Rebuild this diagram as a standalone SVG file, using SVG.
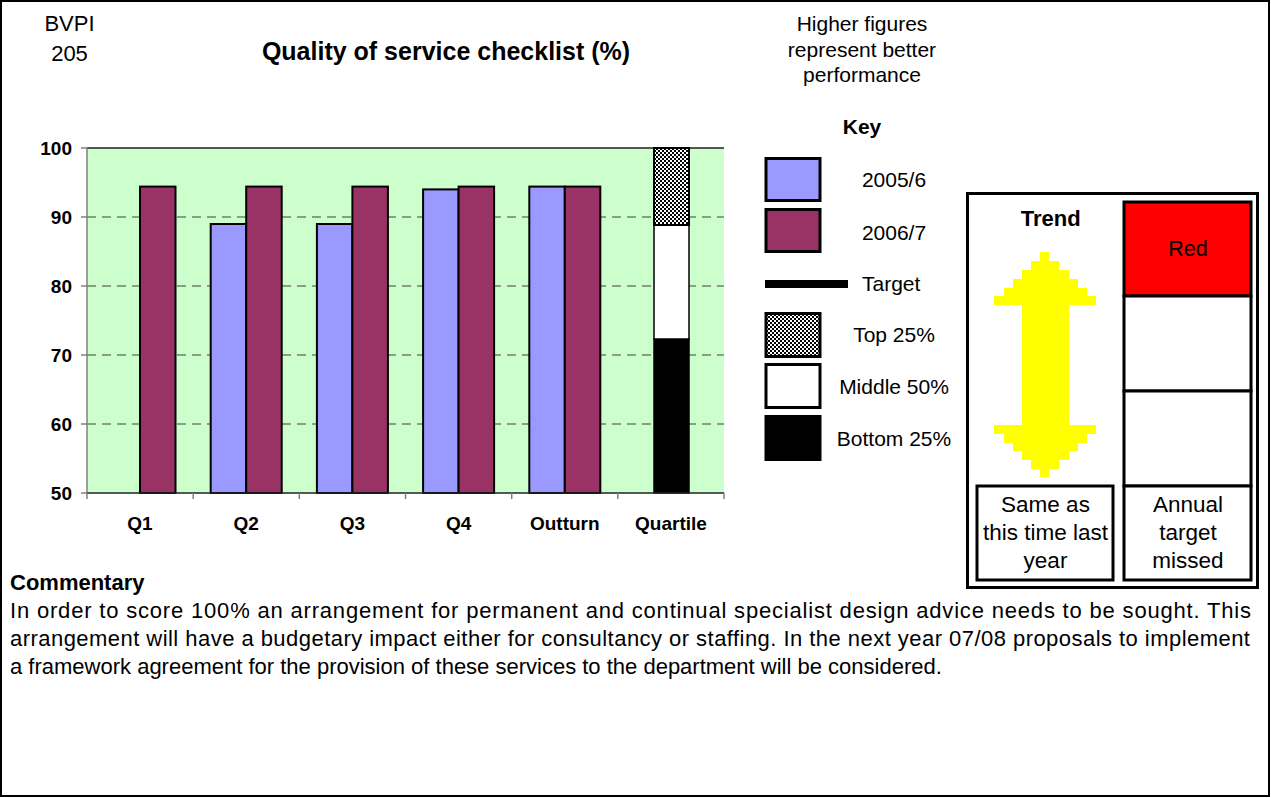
<svg xmlns="http://www.w3.org/2000/svg" width="1271" height="798" viewBox="0 0 1271 798">
<defs>
<pattern id="checker" width="4" height="4" patternUnits="userSpaceOnUse">
<rect width="4" height="4" fill="#ffffff"/>
<rect width="2" height="2" fill="#000000"/>
<rect x="2" y="2" width="2" height="2" fill="#000000"/>
</pattern>
</defs>
<style>
text { font-family: "Liberation Sans", Arial, sans-serif; fill: #000; }
.b { font-weight: bold; }
.ylab { font-size: 19px; font-weight: bold; text-anchor: end; }
.xlab { font-size: 19px; font-weight: bold; text-anchor: middle; }
.key { font-size: 21px; text-anchor: middle; }
.mid { text-anchor: middle; }
.grid { stroke: #404040; stroke-width: 1; stroke-dasharray: 9 6; fill: none; }
.axis { stroke: #808080; stroke-width: 1.5; fill: none; }
.bar { stroke: #000; stroke-width: 2; }
.s05 { fill: #9999FF; }
.s06 { fill: #993366; }
.box { fill: #fff; stroke: #000; stroke-width: 3; }
.body { font-size: 22px; }
.panel { font-size: 22.5px; text-anchor: middle; }
</style>

<rect id="frame" x="1" y="1" width="1268" height="795" fill="#fff" stroke="#000" stroke-width="2"/>

<g id="header">
<text x="69.5" y="31" font-size="22" class="mid">BVPI</text>
<text x="69.5" y="61" font-size="22" class="mid">205</text>
<text x="446" y="60" font-size="25" class="b mid">Quality of service checklist (%)</text>
<text x="862" y="31" font-size="21" class="mid">Higher figures</text>
<text x="862" y="57" font-size="21" class="mid">represent better</text>
<text x="862" y="82" font-size="21" class="mid">performance</text>
</g>

<g id="chart">
<rect id="plot-area" x="87" y="148" width="637" height="345" fill="#CCFFCC"/>
<g id="gridlines">
<line class="grid" x1="87" y1="217" x2="724" y2="217"/>
<line class="grid" x1="87" y1="286" x2="724" y2="286"/>
<line class="grid" x1="87" y1="355" x2="724" y2="355"/>
<line class="grid" x1="87" y1="424" x2="724" y2="424"/>
</g>
<line x1="87" y1="148" x2="724" y2="148" stroke="#222" stroke-width="1.5"/>
<g id="y-axis">
<line class="axis" x1="87" y1="148" x2="87" y2="493"/>
<line class="axis" x1="81" y1="148" x2="87" y2="148"/>
<line class="axis" x1="81" y1="217" x2="87" y2="217"/>
<line class="axis" x1="81" y1="286" x2="87" y2="286"/>
<line class="axis" x1="81" y1="355" x2="87" y2="355"/>
<line class="axis" x1="81" y1="424" x2="87" y2="424"/>
<line class="axis" x1="81" y1="493" x2="87" y2="493"/>
<text class="ylab" x="72" y="155">100</text>
<text class="ylab" x="72" y="224">90</text>
<text class="ylab" x="72" y="293">80</text>
<text class="ylab" x="72" y="362">70</text>
<text class="ylab" x="72" y="431">60</text>
<text class="ylab" x="72" y="500">50</text>
</g>

<g id="bars">
<rect class="bar s06" x="140" y="186.6" width="35.5" height="306.4"/>
<rect class="bar s05" x="210.7" y="224" width="35.5" height="269"/>
<rect class="bar s06" x="246.2" y="186.6" width="35.5" height="306.4"/>
<rect class="bar s05" x="316.9" y="224" width="35.5" height="269"/>
<rect class="bar s06" x="352.4" y="186.6" width="35.5" height="306.4"/>
<rect class="bar s05" x="423.1" y="189.4" width="35.5" height="303.6"/>
<rect class="bar s06" x="458.6" y="186.6" width="35.5" height="306.4"/>
<rect class="bar s05" x="529.3" y="186.6" width="35.5" height="306.4"/>
<rect class="bar s06" x="564.8" y="186.6" width="35.5" height="306.4"/>
</g>

<g id="quartile-bar">
<rect x="654" y="339" width="35" height="154" fill="#000" stroke="#000" stroke-width="1.5"/>
<rect x="654" y="225" width="35" height="114" fill="#fff" stroke="#000" stroke-width="1.5"/>
<rect x="654" y="148" width="35" height="77" fill="url(#checker)" stroke="#000" stroke-width="2"/>
</g>

<g id="x-axis">
<line x1="87" y1="493" x2="724" y2="493" stroke="#222" stroke-width="1.5"/>
<line class="axis" x1="87" y1="493" x2="87" y2="499"/>
<line class="axis" x1="193.2" y1="493" x2="193.2" y2="499"/>
<line class="axis" x1="299.3" y1="493" x2="299.3" y2="499"/>
<line class="axis" x1="405.5" y1="493" x2="405.5" y2="499"/>
<line class="axis" x1="511.7" y1="493" x2="511.7" y2="499"/>
<line class="axis" x1="617.8" y1="493" x2="617.8" y2="499"/>
<line class="axis" x1="724" y1="493" x2="724" y2="499"/>
<text class="xlab" x="140" y="530">Q1</text>
<text class="xlab" x="246.2" y="530">Q2</text>
<text class="xlab" x="352.4" y="530">Q3</text>
<text class="xlab" x="458.6" y="530">Q4</text>
<text class="xlab" x="564.8" y="530">Outturn</text>
<text class="xlab" x="671" y="530">Quartile</text>
</g>
</g>

<g id="legend">
<text x="862" y="134" font-size="21" class="b mid">Key</text>
<g id="key-2005">
<rect x="766" y="158.5" width="54" height="42" class="s05" stroke="#000" stroke-width="3"/>
<text class="key" x="894" y="186.5">2005/6</text>
</g>
<g id="key-2006">
<rect x="766" y="209.5" width="54" height="42" class="s06" stroke="#000" stroke-width="3"/>
<text class="key" x="894" y="239.5">2006/7</text>
</g>
<g id="key-target">
<rect x="765" y="280" width="83" height="8" fill="#000"/>
<text x="862" y="290.5" font-size="21">Target</text>
</g>
<g id="key-top">
<rect x="766" y="313.5" width="54" height="43" fill="url(#checker)" stroke="#000" stroke-width="3"/>
<text class="key" x="894" y="341.5">Top 25%</text>
</g>
<g id="key-middle">
<rect x="766" y="364.5" width="54" height="43" fill="#fff" stroke="#000" stroke-width="3"/>
<text class="key" x="894" y="393.5">Middle 50%</text>
</g>
<g id="key-bottom">
<rect x="766" y="416.5" width="54" height="43" fill="#000" stroke="#000" stroke-width="3"/>
<text class="key" x="894" y="445.5">Bottom 25%</text>
</g>
</g>

<g id="trend-panel">
<rect x="967.5" y="193.5" width="290" height="394" fill="#fff" stroke="#000" stroke-width="3"/>
<text x="1050.7" y="226" font-size="22" class="b mid">Trend</text>
<polygon id="trend-arrow" fill="#FFFF00" points="1040,252 1049,252 1049,261 1059,261 1059,270 1069,270 1069,279 1078,279 1078,288 1087,288 1087,296 1096,296 1096,305 1069,305 1069,425 1096,425 1096,434 1087,434 1087,443 1078,443 1078,451 1069,451 1069,460 1059,460 1059,469 1049,469 1049,477 1040,477 1040,469 1031,469 1031,460 1022,460 1022,451 1013,451 1013,443 1004,443 1004,434 994,434 994,425 1022,425 1022,305 994,305 994,296 1004,296 1004,288 1013,288 1013,279 1022,279 1022,270 1031,270 1031,261 1040,261"/>
<g id="trend-label">
<rect class="box" x="977" y="486" width="136" height="94"/>
<text class="panel" x="1045.5" y="512">Same as</text>
<text class="panel" x="1045.5" y="540">this time last</text>
<text class="panel" x="1045.5" y="568">year</text>
</g>
<g id="status">
<rect x="1124" y="202" width="127" height="94" fill="#FF0000" stroke="#000" stroke-width="3"/>
<text x="1188" y="256" font-size="21.5" class="mid">Red</text>
<rect class="box" x="1124" y="296" width="127" height="95"/>
<rect class="box" x="1124" y="391" width="127" height="95"/>
<rect class="box" x="1124" y="486" width="127" height="94"/>
<text class="panel" x="1188" y="512">Annual</text>
<text class="panel" x="1188" y="540">target</text>
<text class="panel" x="1188" y="568">missed</text>
</g>
</g>

<g id="commentary">
<text x="10" y="590" font-size="22" class="b">Commentary</text>
<text class="body" x="10" y="618" textLength="1241" lengthAdjust="spacing">In order to score 100% an arrangement for permanent and continual specialist design advice needs to be sought. This</text>
<text class="body" x="10" y="646" textLength="1240" lengthAdjust="spacing">arrangement will have a budgetary impact either for consultancy or staffing. In the next year 07/08 proposals to implement</text>
<text class="body" x="10" y="674">a framework agreement for the provision of these services to the department will be considered.</text>
</g>
</svg>
